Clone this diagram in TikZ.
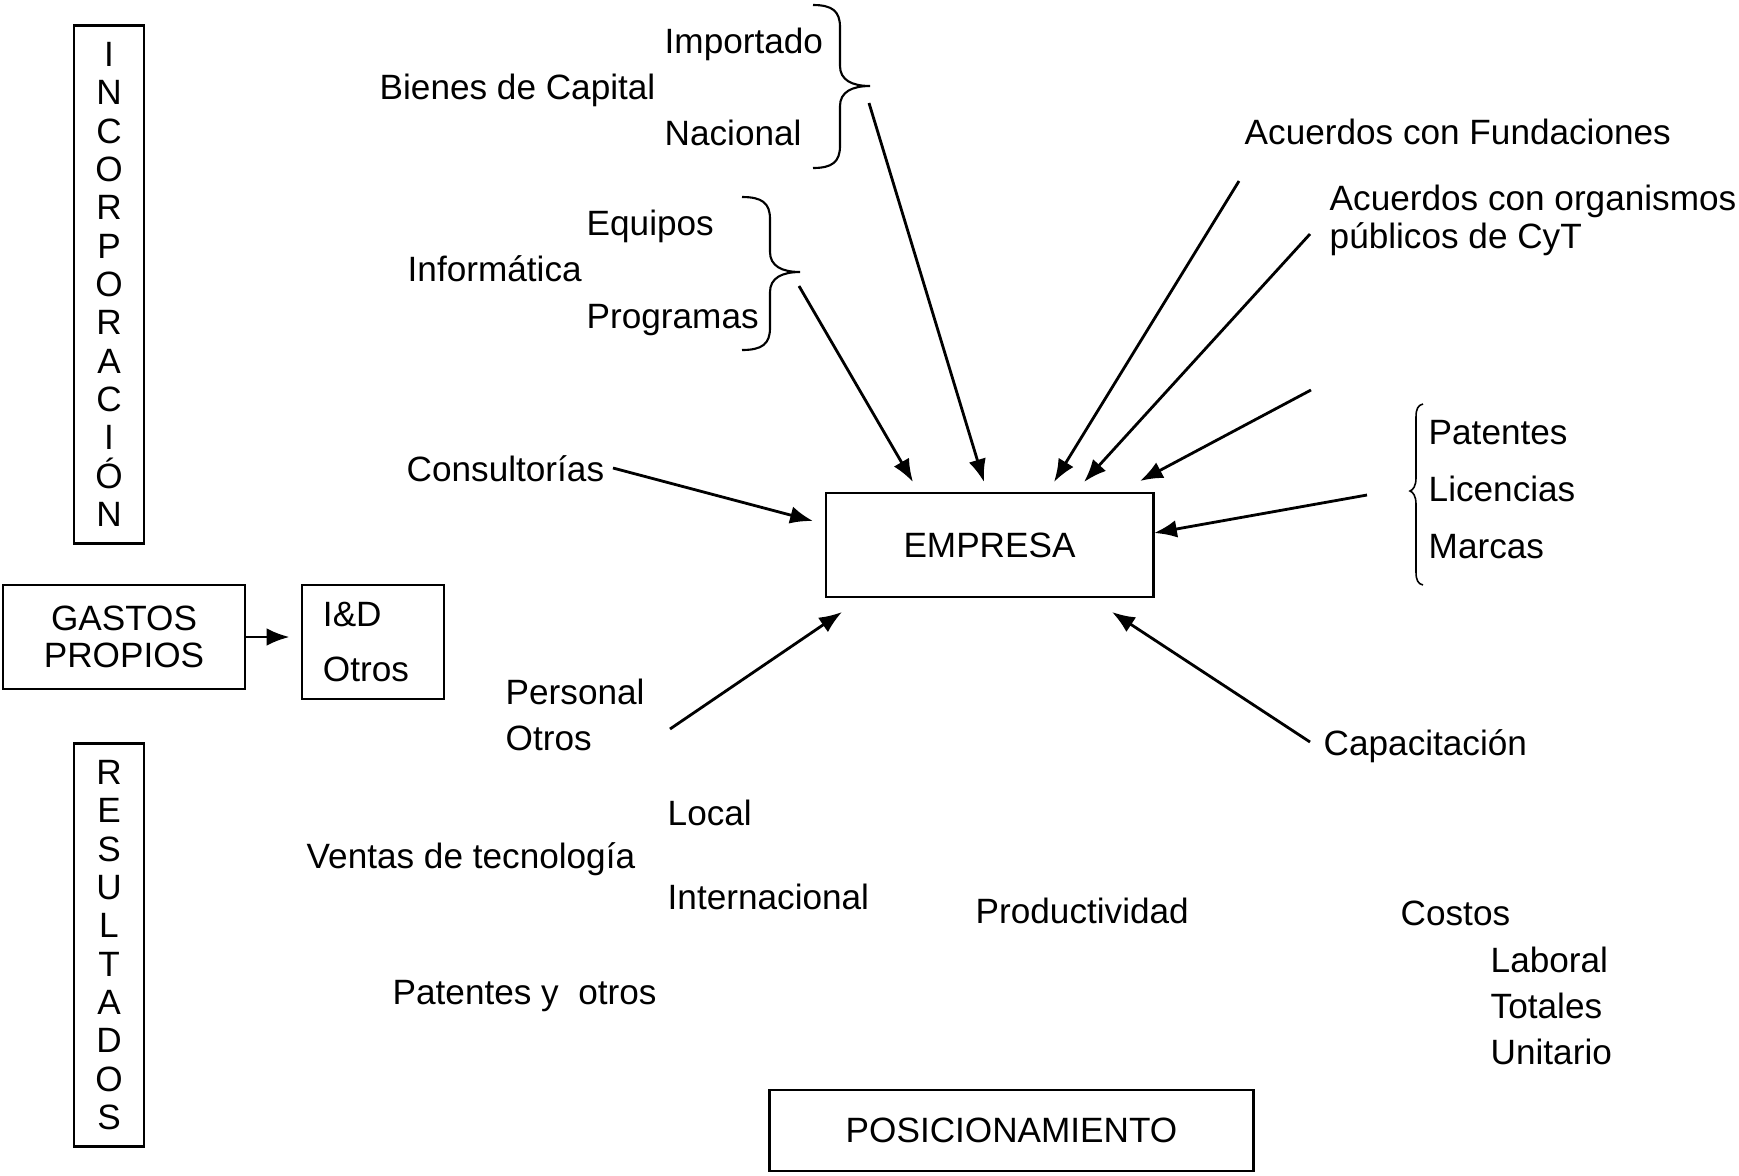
\documentclass[tikz,border=0pt]{standalone}
\usepackage{fontspec}
\setmainfont{Liberation Sans}
\usetikzlibrary{arrows.meta}
\tikzset{
  lbl/.style={anchor=west, inner sep=0pt, text height=7.2pt, text depth=0pt, font=\fontsize{10}{12}\selectfont},
  boxnode/.style={draw, line width=0.8pt, rectangle, inner sep=0pt, font=\fontsize{10}{12}\selectfont},
  vbox/.style={boxnode, minimum width=0.70cm, align=center, font=\fontsize{10}{10.9}\selectfont},
  conn/.style={line width=0.8pt, -{Latex[length=6.5pt,width=5pt]}},
  brc/.style={line width=0.6pt},
  brcthin/.style={line width=0.45pt},
}
\begin{document}
\begin{tikzpicture}[x=0.01cm, y=-0.01cm]
\useasboundingbox (0,0) rectangle (1739,1175);

% boxes
\node[vbox, minimum height=5.17cm] (incorp) at (109,284.5) {I\\N\\C\\O\\R\\P\\O\\R\\A\\C\\I\\Ó\\N};
\node[vbox, minimum height=4.02cm] (result) at (109,945) {R\\E\\S\\U\\L\\T\\A\\D\\O\\S};
\node[boxnode, minimum width=2.42cm, minimum height=1.04cm, align=center, font=\fontsize{10}{10.4}\selectfont] (gastos) at (124,637) {GASTOS\\PROPIOS};
\node[boxnode, minimum height=1.14cm, inner xsep=0.21cm, text width=1.0cm, align=left, font=\fontsize{10}{15.9}\selectfont] (id) at (373,642) {I\&D\\Otros};
\node[boxnode, minimum width=3.27cm, minimum height=1.04cm] (empresa) at (989.5,545) {EMPRESA};
\node[boxnode, minimum width=4.83cm, minimum height=0.81cm] (posic) at (1011.5,1130.5) {POSICIONAMIENTO};

% labels
\node[lbl] (importado) at (664,41) {Importado};
\node[lbl] (bienes) at (379,87) {Bienes de Capital};
\node[lbl] (nacional) at (664,133) {Nacional};
\node[lbl] (equipos) at (586,223) {Equipos};
\node[lbl] (informatica) at (407,269) {Informática};
\node[lbl] (programas) at (586,316) {Programas};
\node[lbl] (consult) at (406,469) {Consultorías};
\node[lbl] (fundac) at (1244,132) {Acuerdos con Fundaciones};
\node[lbl] (org1) at (1329,198) {Acuerdos con organismos};
\node[lbl] (org2) at (1329,236) {públicos de CyT};
\node[lbl] (patentes) at (1428,432) {Patentes};
\node[lbl] (licencias) at (1428,489) {Licencias};
\node[lbl] (marcas) at (1428,546) {Marcas};
\node[lbl] (personal) at (505,692) {Personal};
\node[lbl] (otros) at (505,738) {Otros};
\node[lbl] (capac) at (1323,743) {Capacitación};
\node[lbl] (local) at (667,813) {Local};
\node[lbl] (ventas) at (306,856) {Ventas de tecnología};
\node[lbl] (internac) at (667,897) {Internacional};
\node[lbl] (product) at (975,911) {Productividad};
\node[lbl] (patotros) at (392,992) {Patentes y\ \ otros};
\node[lbl] (costos) at (1400,913) {Costos};
\node[lbl] (laboral) at (1490,960) {Laboral};
\node[lbl] (totales) at (1490,1006) {Totales};
\node[lbl] (unitario) at (1490,1052) {Unitario};

% braces
\draw[brc] (813,5) .. controls (832,5) and (840,11) .. (840,27) -- (840,66)
  .. controls (840,80) and (852,86) .. (870,86)
  .. controls (852,86) and (840,92) .. (840,106) -- (840,146)
  .. controls (840,162) and (832,168) .. (813,168);
\draw[brc] (742,197) .. controls (762,197) and (770,203) .. (770,219) -- (770,252)
  .. controls (770,266) and (782,272) .. (800,272)
  .. controls (782,272) and (770,278) .. (770,292) -- (770,328)
  .. controls (770,344) and (762,350) .. (742,350);
\draw[brcthin] (1423,404) .. controls (1418,405) and (1416,409) .. (1416,417) -- (1416,478)
  .. controls (1416,486) and (1413,490) .. (1410,491)
  .. controls (1413,492) and (1416,496) .. (1416,504) -- (1416,572)
  .. controls (1416,580) and (1418,584) .. (1423,585);

% connector end points
\coordinate (s1) at (799,286);  \coordinate (t1) at (913,482);
\coordinate (s2) at (869,103);  \coordinate (t2) at (984,482);
\coordinate (s3) at (1239,181); \coordinate (t3) at (1054,482);
\coordinate (s4) at (1310,234); \coordinate (t4) at (1084,482);
\coordinate (s5) at (1311,390); \coordinate (t5) at (1140,481);
\coordinate (s6) at (1367,495); \coordinate (t6) at (1154,533);
\coordinate (s7) at (613,468);  \coordinate (t7) at (813,521);
\coordinate (s8) at (670,729);  \coordinate (t8) at (842,612);
\coordinate (s9) at (1310,742); \coordinate (t9) at (1112,612);

\foreach \i in {1,...,9} { \draw[conn] (s\i) -- (t\i); }

\draw[conn, shorten >=0.11cm] (gastos.east) -- (gastos.east -| id.west);
\end{tikzpicture}
\end{document}
